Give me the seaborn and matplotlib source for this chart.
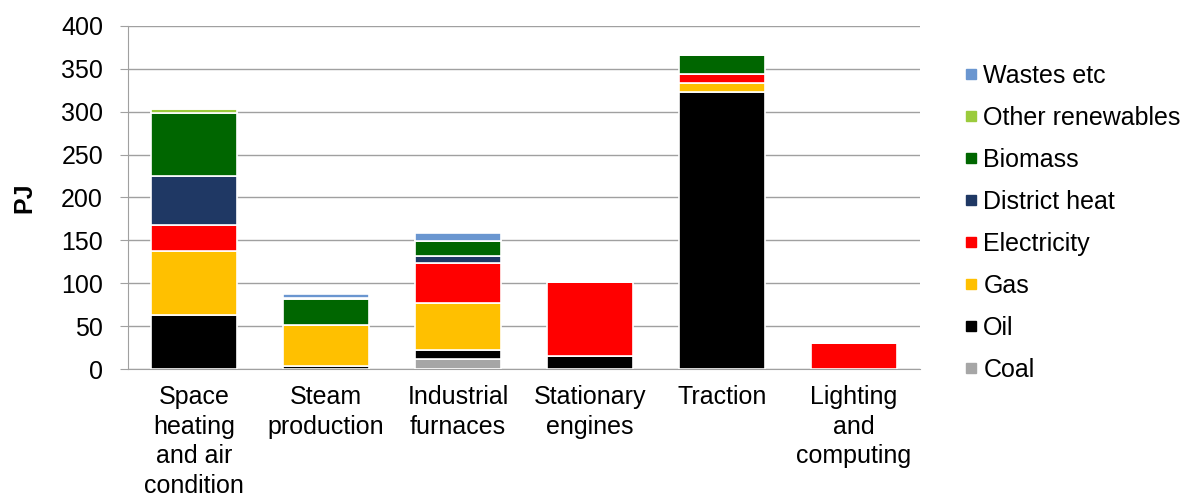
import numpy as np
import pandas as pd
import seaborn as sns
import matplotlib.pyplot as plt
from matplotlib.lines import Line2D

categories = ["Space\nheating\nand air\ncondition", "Steam\nproduction", "Industrial\nfurnaces",
              "Stationary\nengines", "Traction", "Lighting\nand\ncomputing"]

# stacked bottom -> top
coal = [0, 0, 12, 0, 0, 0]
oil = [63, 4, 10, 15, 323, 0]
gas = [74, 47, 55, 0, 10, 0]
electricity = [31, 0, 47, 87, 11, 30]
district_heat = [57, 0, 8, 0, 0, 0]
biomass = [73, 31, 17, 0, 22, 0]
other_renewables = [5, 1, 0, 0, 0, 0]
wastes = [0, 5, 10, 0, 0, 0]

series = {
    "Coal": coal,
    "Oil": oil,
    "Gas": gas,
    "Electricity": electricity,
    "District heat": district_heat,
    "Biomass": biomass,
    "Other renewables": other_renewables,
    "Wastes etc": wastes,
}
colors = {
    "Coal": "#A6A6A6",
    "Oil": "#000000",
    "Gas": "#FFC000",
    "Electricity": "#FF0000",
    "District heat": "#1F3864",
    "Biomass": "#006600",
    "Other renewables": "#9BCB3C",
    "Wastes etc": "#6A96D0",
}

sns.set_style("white")
plt.rcParams['font.family'] = ['Liberation Sans', 'DejaVu Sans']
plt.rcParams['text.color'] = 'black'
plt.rcParams['axes.labelcolor'] = 'black'
plt.rcParams['xtick.color'] = 'black'
plt.rcParams['ytick.color'] = 'black'

fig = plt.figure(figsize=(11.9, 4.97), dpi=100)
ax = fig.add_axes([0.1076, 0.2575, 0.6655, 0.6905])

df = pd.DataFrame(series, index=categories)
bottom = np.zeros(len(categories))
for name in series:
    vals = df[name].values
    sns.barplot(x=categories, y=vals, bottom=bottom, color=colors[name], ax=ax,
                saturation=1, width=0.65, edgecolor="white", linewidth=1.2, zorder=3)
    bottom = bottom + vals

ax.set_ylim(0, 400)
ax.set_yticks(range(0, 401, 50))
ax.yaxis.grid(True, color="#A0A0A0", linewidth=1)
ax.set_axisbelow(True)
for s in ["top", "right"]:
    ax.spines[s].set_visible(False)
ax.spines["left"].set_color("#A0A0A0")
ax.spines["bottom"].set_color("#A0A0A0")
ax.tick_params(axis="y", which="major", left=True, length=6, color="#A0A0A0",
               labelcolor="black", labelsize=18, pad=12)
ax.tick_params(axis="x", bottom=False, labelsize=18, pad=8, labelcolor="black")
for lbl in ax.get_xticklabels():
    lbl.set_linespacing(1.3)
ax.set_ylabel("PJ", fontsize=18, fontweight="bold", labelpad=18)

handles = [Line2D([], [], marker="s", linestyle="none", markersize=7.5,
                  markerfacecolor=colors[n], markeredgecolor=colors[n], label=n)
           for n in reversed(list(series))]
fig.legend(handles=handles, loc="center left", bbox_to_anchor=(0.799, 0.551),
           frameon=False, fontsize=18, handlelength=0.6, handletextpad=0.2,
           labelspacing=0.72, borderpad=0)

fig.savefig("out.png", dpi=100)
